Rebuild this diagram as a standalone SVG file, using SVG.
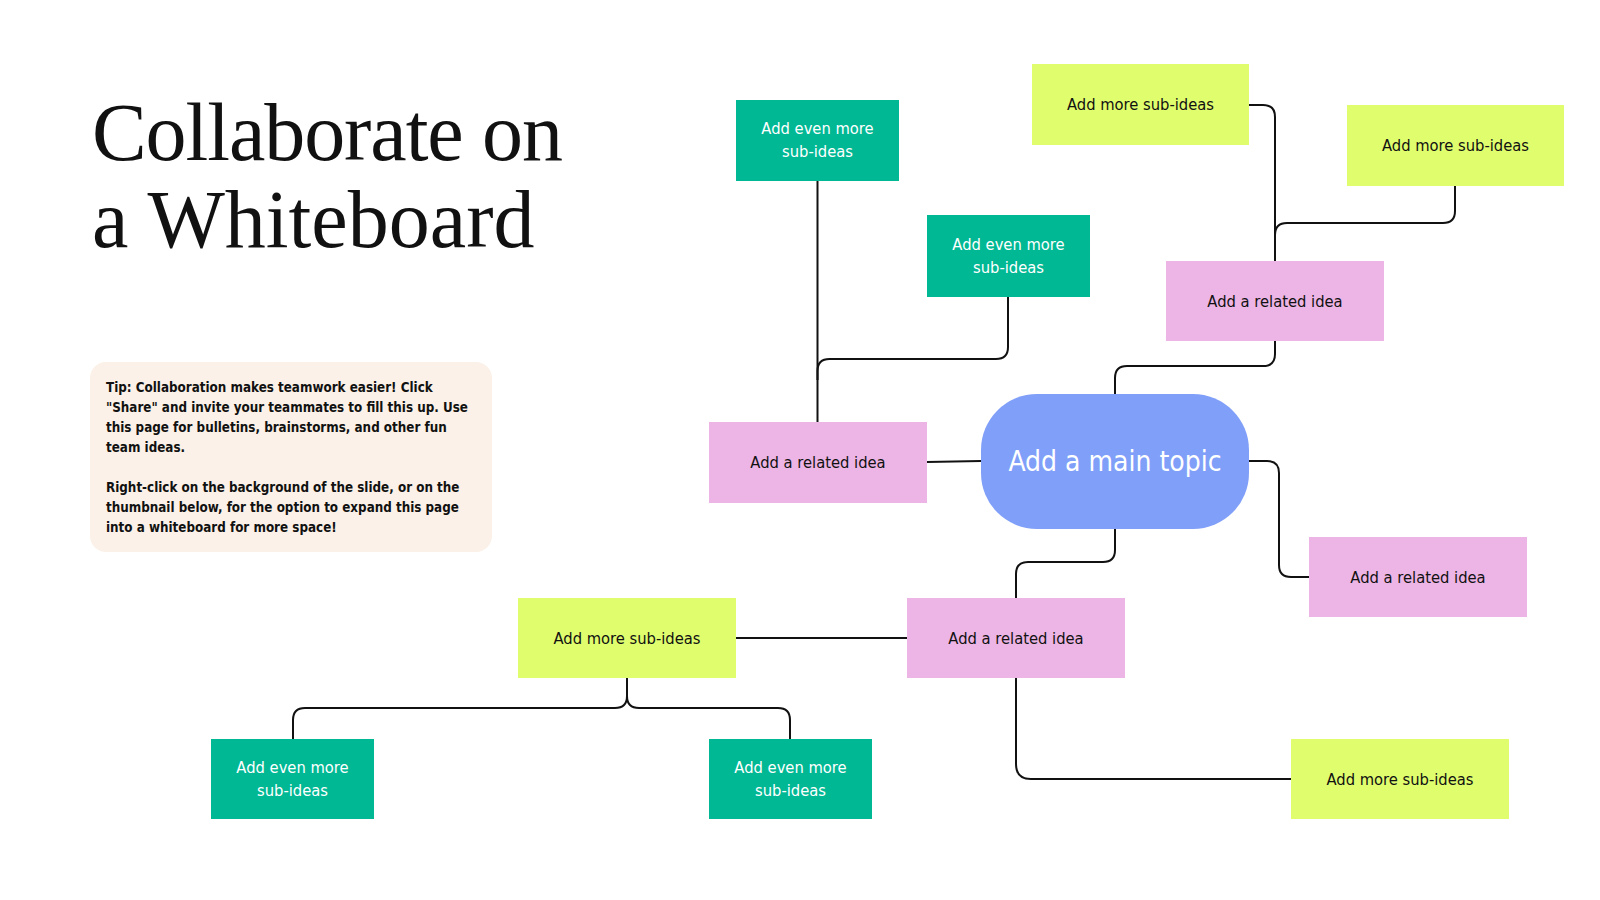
<svg xmlns="http://www.w3.org/2000/svg" width="1600" height="900" viewBox="0 0 1600 900">
<style>
.teal{fill:#00B894}
.pink{fill:#EDB5E6}
.yel{fill:#E0FD6E}
.lbl{font-family:"DejaVu Sans Condensed","DejaVu Sans",sans-serif;font-stretch:condensed;font-size:16.4px;text-anchor:middle;fill:#111}
.wlbl{font-family:"DejaVu Sans Condensed","DejaVu Sans",sans-serif;font-stretch:condensed;font-size:16.4px;text-anchor:middle;fill:#fff}
.tip{font-family:"DejaVu Sans Condensed","DejaVu Sans",sans-serif;font-stretch:condensed;font-weight:bold;font-size:13.3px;fill:#111}
.con{fill:none;stroke:#111;stroke-width:2}
</style>
<rect width="1600" height="900" fill="#fff"/>
<g id="title">
<text x="92" y="160" font-family="'Liberation Serif',serif" font-size="82" fill="#111" textLength="471" lengthAdjust="spacing">Collaborate on</text>
<text x="92" y="247" font-family="'Liberation Serif',serif" font-size="82" fill="#111">a Whiteboard</text>
</g>
<g id="tip">
<rect x="90" y="362" width="402" height="190" rx="16" fill="#FBF1E8"/>
<text class="tip" x="106" y="392">Tip: Collaboration makes teamwork easier! Click</text>
<text class="tip" x="106" y="412">"Share" and invite your teammates to fill this up. Use</text>
<text class="tip" x="106" y="432">this page for bulletins, brainstorms, and other fun</text>
<text class="tip" x="106" y="452">team ideas.</text>
<text class="tip" x="106" y="492">Right-click on the background of the slide, or on the</text>
<text class="tip" x="106" y="512">thumbnail below, for the option to expand this page</text>
<text class="tip" x="106" y="532">into a whiteboard for more space!</text>
</g>
<g id="connectors">
<path class="con" d="M817.5 181 V422"/>
<path class="con" d="M1008 297 V347 Q1008 359 996 359 H829.5 Q817.5 359 817.5 371 V380"/>
<path class="con" d="M927 462 L981 461"/>
<path class="con" d="M1115 394 V378 Q1115 366 1127 366 H1263 Q1275 366 1275 354 V341"/>
<path class="con" d="M1249 105 H1263 Q1275 105 1275 117 V261"/>
<path class="con" d="M1455 186 V211 Q1455 223 1443 223 H1287 Q1275 223 1275 235 V250"/>
<path class="con" d="M1249 461 H1267 Q1279 461 1279 473 V565 Q1279 577 1291 577 H1309"/>
<path class="con" d="M1115 529 V550 Q1115 562 1103 562 H1028 Q1016 562 1016 574 V598"/>
<path class="con" d="M907 638 H736"/>
<path class="con" d="M1016 678 V764 Q1016 779 1031 779 H1291"/>
<path class="con" d="M627 678 V696 Q627 708 615 708 H305 Q293 708 293 720 V739"/>
<path class="con" d="M627 696 Q627 708 639 708 H778 Q790 708 790 720 V739"/>
</g>
<g id="main">
<rect x="981" y="394" width="268" height="135" rx="56" fill="#809FF8"/>
<text x="1115" y="471" font-family="'DejaVu Sans Condensed','DejaVu Sans',sans-serif" font-stretch="condensed" font-size="28" text-anchor="middle" fill="#fff">Add a main topic</text>
</g>
<g id="even1"><rect class="teal" x="736" y="100" width="163" height="81"/><text class="wlbl" x="817.5" y="134">Add even more</text><text class="wlbl" x="817.5" y="157">sub-ideas</text></g>
<g id="even2"><rect class="teal" x="927" y="215" width="163" height="82"/><text class="wlbl" x="1008.5" y="250">Add even more</text><text class="wlbl" x="1008.5" y="273">sub-ideas</text></g>
<g id="relLeft"><rect class="pink" x="709" y="422" width="218" height="81"/><text class="lbl" x="818" y="468">Add a related idea</text></g>
<g id="more1"><rect class="yel" x="1032" y="64" width="217" height="81"/><text class="lbl" x="1140.5" y="110">Add more sub-ideas</text></g>
<g id="more2"><rect class="yel" x="1347" y="105" width="217" height="81"/><text class="lbl" x="1455.5" y="151">Add more sub-ideas</text></g>
<g id="relTop"><rect class="pink" x="1166" y="261" width="218" height="80"/><text class="lbl" x="1275" y="307">Add a related idea</text></g>
<g id="relRight"><rect class="pink" x="1309" y="537" width="218" height="80"/><text class="lbl" x="1418" y="583">Add a related idea</text></g>
<g id="relBottom"><rect class="pink" x="907" y="598" width="218" height="80"/><text class="lbl" x="1016" y="644">Add a related idea</text></g>
<g id="more3"><rect class="yel" x="518" y="598" width="218" height="80"/><text class="lbl" x="627" y="644">Add more sub-ideas</text></g>
<g id="more4"><rect class="yel" x="1291" y="739" width="218" height="80"/><text class="lbl" x="1400" y="785">Add more sub-ideas</text></g>
<g id="even3"><rect class="teal" x="211" y="739" width="163" height="80"/><text class="wlbl" x="292.5" y="773">Add even more</text><text class="wlbl" x="292.5" y="796">sub-ideas</text></g>
<g id="even4"><rect class="teal" x="709" y="739" width="163" height="80"/><text class="wlbl" x="790.5" y="773">Add even more</text><text class="wlbl" x="790.5" y="796">sub-ideas</text></g>
</svg>
